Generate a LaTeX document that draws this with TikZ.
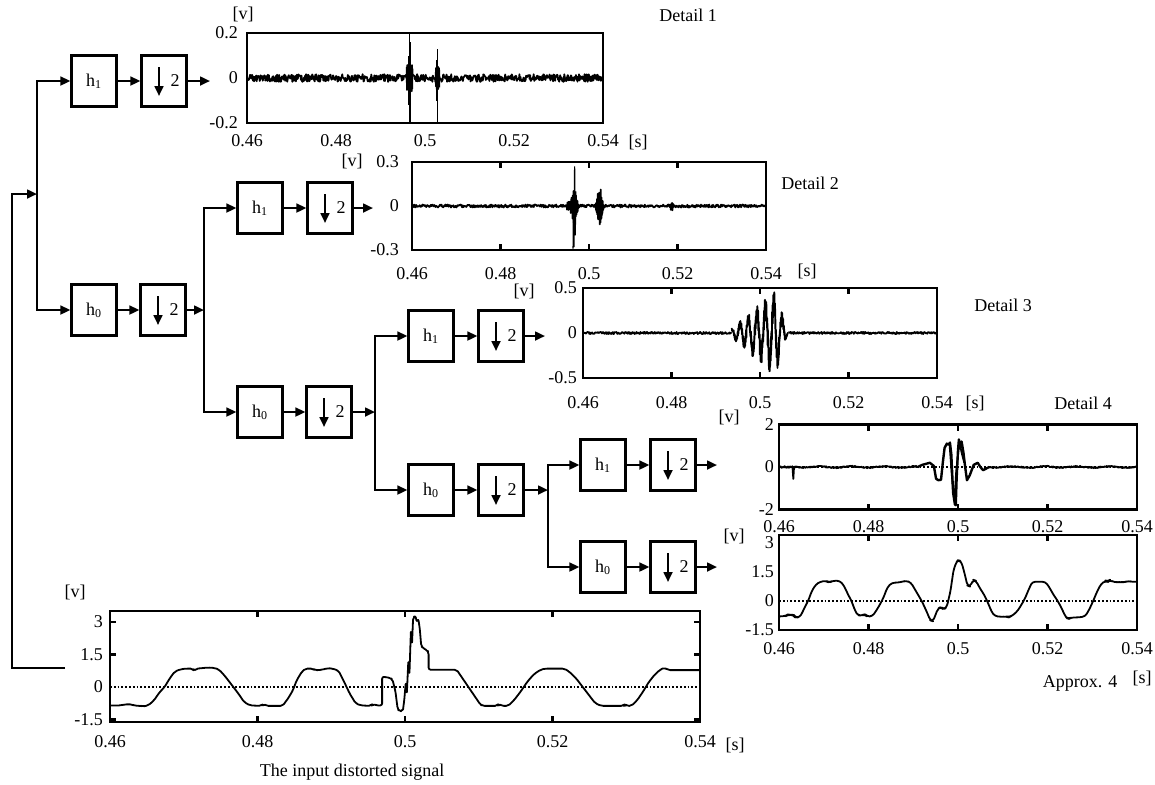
\documentclass[tikz,border=0pt]{standalone}
\usepackage{fontspec}
\setmainfont{Liberation Serif}
\usetikzlibrary{arrows.meta,calc}

\begin{document}
\begin{tikzpicture}[x=0.5pt, y=-0.5pt, line width=1.1pt, font=\fontsize{9}{10.8}\selectfont,
  >={Triangle[length=5pt,width=4.4pt]},
  flt/.style={draw, minimum width=22.5pt, minimum height=25.5pt, inner sep=0pt},
  lab/.style={inner sep=0pt},
  sig/.style={line width=0.9pt, line join=round},
  zero/.style={densely dotted, line width=0.9pt}]
  \useasboundingbox (0,0) rectangle (1155,784);
  \pgfmathsetseed{11}
  % filter bank
  \node[flt] (hi1) at (94,81) {h\textsubscript{1}};
  \node[flt] (dhi1) at (164,81) {\hspace{11pt}2};
  \node[flt] (lo1) at (94,310) {h\textsubscript{0}};
  \node[flt] (dlo1) at (163,310) {\hspace{11pt}2};
  \node[flt] (hi2) at (260,208) {h\textsubscript{1}};
  \node[flt] (dhi2) at (330,208) {\hspace{11pt}2};
  \node[flt] (lo2) at (260,412) {h\textsubscript{0}};
  \node[flt] (dlo2) at (329,412) {\hspace{11pt}2};
  \node[flt] (hi3) at (431,336) {h\textsubscript{1}};
  \node[flt] (dhi3) at (501,336) {\hspace{11pt}2};
  \node[flt] (lo3) at (431,490) {h\textsubscript{0}};
  \node[flt] (dlo3) at (501,490) {\hspace{11pt}2};
  \node[flt] (hi4) at (603,465) {h\textsubscript{1}};
  \node[flt] (dhi4) at (673,465) {\hspace{11pt}2};
  \node[flt] (lo4) at (603,567) {h\textsubscript{0}};
  \node[flt] (dlo4) at (673,567) {\hspace{11pt}2};
  \foreach \d in {dhi1,dlo1,dhi2,dlo2,dhi3,dlo3,dhi4,dlo4}
    \draw[->] ($(\d.center)+(-5,-14)$) -- ($(\d.center)+(-5,15)$);
  \coordinate (j1) at (37,194); \coordinate (j2) at (204,310); \coordinate (j3) at (375,412); \coordinate (j4) at (548,490);
  \coordinate (o1) at (210,81); \coordinate (o2) at (373,208); \coordinate (o3) at (545,336);
  \coordinate (o4) at (717,465); \coordinate (o5) at (717,567);
  \coordinate (src) at (65,668); \coordinate (bend) at (12,194);
  \draw[->] (src) -| (bend) -- (j1);
  \draw[->] (j1) |- (hi1); \draw[->] (j1) |- (lo1); \draw[->] (hi1) -- (dhi1); \draw[->] (lo1) -- (dlo1);
  \draw[->] (dhi1) -- (o1); \draw[->] (dlo1) -- (j2);
  \draw[->] (j2) |- (hi2); \draw[->] (j2) |- (lo2); \draw[->] (hi2) -- (dhi2); \draw[->] (lo2) -- (dlo2);
  \draw[->] (dhi2) -- (o2); \draw[->] (dlo2) -- (j3);
  \draw[->] (j3) |- (hi3); \draw[->] (j3) |- (lo3); \draw[->] (hi3) -- (dhi3); \draw[->] (lo3) -- (dlo3);
  \draw[->] (dhi3) -- (o3); \draw[->] (dlo3) -- (j4);
  \draw[->] (j4) |- (hi4); \draw[->] (j4) |- (lo4); \draw[->] (hi4) -- (dhi4); \draw[->] (lo4) -- (dlo4);
  \draw[->] (dhi4) -- (o4); \draw[->] (dlo4) -- (o5);
  % Detail 1
  \begin{scope}[shift={(247,78)}, x=2.225pt, y=112.5pt]
    \begin{scope}
      \clip (0,-0.2) rectangle (80,0.2);
      \draw[sig] plot[domain=0:80, samples=700] (\x,{0.017*rand});
      \draw[sig] plot[domain=35.9:37.2, samples=70] (\x,{0.06*rand});
      \draw[line width=0.5pt] (36.5,-0.25) -- (36.5,0.25) (36.8,-0.25) -- (36.8,0.16) (36.3,-0.12) -- (36.3,0.1);
      \draw[sig] plot[domain=42.4:43.2, samples=40] (\x,{0.05*rand});
      \draw[line width=0.5pt] (42.8,-0.25) -- (42.8,0.13) (42.6,-0.1) -- (42.6,0.08);
    \end{scope}
    \draw (0,-0.2) rectangle (80,0.2);
    \foreach \v/\l [count=\i] in {0.2/0.2,0/0,-0.2/-0.2}
      \node[lab, anchor=east, xshift=-4pt] (ya\i) at (0,\v) {\l};
    \foreach \t/\l [count=\i] in {0/0.46,20/0.48,40/0.5,60/0.52,80/0.54}
      \node[lab, yshift=-9pt] (xa\i) at (\t,-0.2) {\l};
  \end{scope}
  % Detail 2
  \begin{scope}[shift={(412,206)}, x=2.2125pt, y=73.33pt]
    \begin{scope}
      \clip (0,-0.3) rectangle (80,0.3);
      \draw[sig] plot[domain=0:80, samples=600] (\x,{0.01*rand});
      \draw[sig] plot[domain=35:37.6, samples=120] (\x,{0.12*rand*max(0.25,1-abs(\x-36.6)/1.2)});
      \draw[line width=0.6pt] (36.4,-0.29) -- (36.5,0.05) -- (36.6,-0.28) -- (36.75,0.27) -- (36.9,-0.2) -- (37,0.1);
      \draw[sig] plot[domain=41.4:43.4, samples=90] (\x,{0.15*rand*max(0,1-abs(\x-42.4)/1)});
      \draw[sig] plot[domain=58.4:59, samples=14] (\x,{0.03*rand});
    \end{scope}
    \draw (0,-0.3) rectangle (80,0.3);
    \foreach \t in {20,40,60} {\draw (\t,-0.3) -- ++(0pt,3pt); \draw (\t,0.3) -- ++(0pt,-3pt);}
    \foreach \v/\l [count=\i] in {0.3/0.3,0/0,-0.3/-0.3}
      \node[lab, anchor=east, xshift=-6pt] (yb\i) at (0,\v) {\l};
    \foreach \t/\l [count=\i] in {0/0.46,20/0.48,40/0.5,60/0.52,80/0.54}
      \node[lab, yshift=-12pt] (xb\i) at (\t,-0.3) {\l};
  \end{scope}
  % Detail 3
  \begin{scope}[shift={(583,333)}, x=2.2125pt, y=45pt]
    \begin{scope}
      \clip (0,-0.5) rectangle (80,0.5);
      \draw[sig] plot[domain=0:33.6, samples=260] (\x,{0.012*rand});
      \draw[sig] plot[domain=33.6:46.4, samples=500]
        (\x,{max(0,min(0.05+0.3*(\x-34)/9.5,0.35*(46.3-\x)/2.8))*(cos(360*(\x-35.5)/1.9)+0.45*rand)});
      \draw[sig] plot[domain=46.4:80, samples=260] (\x,{0.012*rand});
    \end{scope}
    \draw (0,-0.5) rectangle (80,0.5);
    \foreach \t in {20,40,60} {\draw (\t,-0.5) -- ++(0pt,3pt); \draw (\t,0.5) -- ++(0pt,-3pt);}
    \foreach \v/\l [count=\i] in {0.5/0.5,0/0,-0.5/-0.5}
      \node[lab, anchor=east, xshift=-2.5pt] (yc\i) at (0,\v) {\l};
    \foreach \t/\l [count=\i] in {0/0.46,20/0.48,40/0.5,60/0.52,80/0.54}
      \node[lab, yshift=-12.5pt] (xc\i) at (\t,-0.5) {\l};
  \end{scope}
  % Detail 4
  \begin{scope}[shift={(779,467)}, x=2.2375pt, y=10.625pt]
    \draw[zero] (0,0) -- (80,0);
    \draw[sig] plot[domain=0:3, samples=25] (\x,{0.04*rand}) -- (3.2,-0.56) -- (3.35,0)
      -- plot[domain=3.5:31, samples=220] (\x,{0.03*sin(50*\x)+0.03*rand});
    \draw[sig, line width=1.2pt] plot coordinates {(31,0) (32,0.1) (33.7,0.2) (34.6,0.05) (35.1,-0.55) (35.6,-0.62)
      (36.2,-0.6) (36.6,0.2) (37,0.9) (37.5,1.1) (37.9,1.05) (38.2,1.15) (38.5,0.6) (38.9,-1.2) (39.3,-1.75)
      (39.5,-1.8) (39.7,-0.5) (40,0.8) (40.2,1.3) (40.5,0.9) (40.8,1.2) (41.2,0.7) (41.6,0) (42,-0.62) (42.6,-0.4)
      (43.5,0.1) (44.4,0.2) (45,0) (45.6,-0.15) (46.5,-0.05) (47,0)};
    \draw[sig] (38.1,1.1) -- (38.7,-0.6) -- (39.2,-1.6) -- (39.6,-0.2) -- (40.3,1.15) -- (40.9,0.6) -- (41.4,0.2);
    \draw[sig] plot[domain=47:80, samples=260] (\x,{0.03*sin(50*\x)+0.03*rand});
    \draw (0,-2) rectangle (80,2);
    \foreach \t in {20,40,60} {\draw (\t,-2) -- ++(0pt,3pt); \draw (\t,2) -- ++(0pt,-3pt);}
    \foreach \v/\l [count=\i] in {2/2,0/0,-2/-2}
      \node[lab, anchor=east, xshift=-2pt] (yd\i) at (0,\v) {\l};
    \foreach \t/\l [count=\i] in {0/0.46,20/0.48,40/0.5,60/0.52,80/0.54}
      \node[lab, yshift=-8.5pt] (xd\i) at (\t,-2) {\l};
  \end{scope}
  % Approx. 4
  \begin{scope}[shift={(779,601)}, x=2.2375pt, y=9.65pt]
    \draw[zero] (0,0) -- (80,0);
    \draw[sig, rounded corners=1.5pt] plot coordinates {(0,-0.8) (1.5,-0.78) (2,-0.7) (2.5,-0.72) (3.3,-0.72)
      (3.6,-0.85) (4.6,-0.85) (5.2,-0.6) (5.8,-0.3) (6.5,0) (7.3,0.5) (8.2,0.85) (9.2,1) (10.5,1.05) (11.2,0.95)
      (12,1.05) (13.6,1.05) (14.5,0.8) (15.4,0.35) (16.2,0) (17,-0.5) (17.6,-0.75) (18.5,-0.75) (19.2,-0.68)
      (19.7,-0.8) (20.8,-0.8) (21.6,-0.55) (22.5,-0.2) (23.3,0.15) (24.2,0.7) (25.2,0.95) (26.5,0.95) (27.5,1)
      (28.5,1.05) (29.5,0.95) (30.5,0.55) (31.9,0) (33,-0.55) (33.8,-1) (34.4,-1.05) (35,-0.7) (35.5,-0.4)
      (36.2,-0.3) (36.8,-0.45) (37.5,-0.3) (38.3,0.5) (39,1.6) (39.6,2) (40.1,2.15) (40.8,2) (41.5,1.4)
      (42.1,0.8) (42.7,0.75) (43.4,1.1) (44,1.05) (44.8,0.7) (45.9,0.3) (46.7,-0.1) (47.5,-0.55) (48.2,-0.78)
      (49.5,-0.82) (50.8,-0.8) (51.4,-0.85) (52.1,-0.75) (53,-0.6) (53.9,-0.3) (54.9,0.1) (55.8,0.6) (56.6,1)
      (59.5,1) (60.3,0.75) (61.4,0.3) (62.3,0) (63.2,-0.4) (64,-0.8) (64.6,-0.95) (65.3,-0.85) (67,-0.85)
      (68.4,-0.8) (69.3,-0.45) (70.2,0) (71,0.45) (72,0.9) (73,1.05) (73.5,1) (74,1.1) (75,0.95) (76,1)
      (77,0.95) (78,1.05) (79,0.98) (80,1)};
    \draw (0,-1.5) rectangle (80,3.4);
    \foreach \t in {20,40,60} {\draw (\t,-1.5) -- ++(0pt,3pt); \draw (\t,3.4) -- ++(0pt,-3pt);}
    \foreach \v/\l [count=\i] in {3/3,1.5/1.5,0/0,-1.5/-1.5}
      \node[lab, anchor=east, xshift=-2pt] (ye\i) at (0,\v) {\l};
    \foreach \t/\l [count=\i] in {0/0.46,20/0.48,40/0.5,60/0.52,80/0.54}
      \node[lab, yshift=-9.5pt] (xe\i) at (\t,-1.5) {\l};
  \end{scope}
  % input signal
  \begin{scope}[shift={(110,687)}, x=3.6875pt, y=10.83pt]
    \draw[zero] (0,0) -- (80,0);
    \draw[sig, rounded corners=1pt] plot coordinates {(0,-0.85) (1.5,-0.85) (2,-0.8) (3,-0.8) (3.4,-0.88) (4,-0.85)
      (4.4,-0.9) (5.2,-0.85) (6,-0.6) (6.7,-0.25) (7.4,0) (8.1,0.4) (8.8,0.72) (9.6,0.82) (10.3,0.85)
      (11.2,0.85) (11.4,0.75) (11.7,0.85) (12.5,0.87) (13.2,0.9) (14.2,0.88) (14.8,0.8) (15.6,0.5) (16.5,0.1)
      (17.4,-0.3) (18.2,-0.7) (19,-0.85) (20.5,-0.87) (20.8,-0.78) (21.2,-0.87) (23.4,-0.87) (24.2,-0.5)
      (24.8,-0.15) (25.3,0.3) (26,0.7) (26.5,0.85) (27.5,0.85) (27.8,0.77) (28.8,0.8) (29.5,0.87) (30.2,0.85)
      (31,0.75) (31.8,0.2) (32.5,-0.3) (33.3,-0.75) (34,-0.85) (35.4,-0.87) (35.6,-0.78) (36.1,-0.85)
      (36.9,-0.85) (36.9,0.48) (37.5,0.45) (38,0.42) (38.3,0.35) (38.7,-0.2) (39,-1) (39.2,-1.12) (39.7,-1.12)
      (39.9,-0.6) (40.1,0.2) (40.25,-0.3) (40.45,1.2) (40.6,0.6) (40.8,2.6) (40.95,2) (41.1,3.2) (41.4,3.3)
      (41.6,3) (41.8,3.15) (42,2.7) (42.2,1.9) (42.4,1.8) (43,1.7) (43.2,1.6) (43.2,0.8) (47,0.8) (48.6,0)
      (50.2,-0.8) (50.5,-0.87) (52.5,-0.87) (52.7,-0.78) (53.1,-0.87) (54,-0.87) (54.8,-0.6) (55.7,-0.2)
      (56.6,0.25) (57.5,0.6) (58.4,0.8) (59,0.85) (61.6,0.85) (62.3,0.7) (63.2,0.4) (64.1,0) (65,-0.4)
      (65.8,-0.75) (66.6,-0.87) (69.6,-0.87) (69.8,-0.8) (70.1,-0.87) (70.7,-0.87) (71.5,-0.6) (72.3,-0.2)
      (73,0.2) (73.8,0.55) (74.6,0.8) (75.2,0.9) (75.7,0.78) (80,0.78)};
    \draw (0,-1.6) rectangle (80,3.5);
    \foreach \t in {20,40,60} {\draw (\t,-1.6) -- ++(0pt,3pt); \draw (\t,3.5) -- ++(0pt,-3pt);}
    \foreach \v in {3,1.5,-1.5} {\draw (0,\v) -- ++(3pt,0pt); \draw (80,\v) -- ++(-3pt,0pt);}
    \foreach \v/\l [count=\i] in {3/3,1.5/1.5,0/0,-1.5/-1.5}
      \node[lab, anchor=east, xshift=-3pt] (yf\i) at (0,\v) {\l};
    \foreach \t/\l [count=\i] in {0/0.46,20/0.48,40/0.5,60/0.52,80/0.54}
      \node[lab, yshift=-10pt] (xf\i) at (\t,-1.6) {\l};
  \end{scope}
  % captions
  \node[lab] (va) at (243,14) {[v]};
  \node[lab] (sa) at (638,142) {[s]};
  \node[lab] (deta) at (688,15) {Detail 1};
  \node[lab] (vb) at (352,161) {[v]};
  \node[lab] (sb) at (807,271) {[s]};
  \node[lab] (detb) at (810,183) {Detail 2};
  \node[lab] (vc) at (524,291) {[v]};
  \node[lab] (sc) at (975,403) {[s]};
  \node[lab] (detc) at (1003,305) {Detail 3};
  \node[lab] (vd) at (729,417) {[v]};
  \node[lab] (detd) at (1083,403) {Detail 4};
  \node[lab] (ve) at (734,536) {[v]};
  \node[lab] (se) at (1142,678) {[s]};
  \node[lab] (appr) at (1080,683) {Approx. 4};
  \node[lab] (vf) at (75,592) {[v]};
  \node[lab] (sf) at (735,745) {[s]};
  \node[lab] (ttl) at (352,772) {The input distorted signal};
\end{tikzpicture}
\end{document}
